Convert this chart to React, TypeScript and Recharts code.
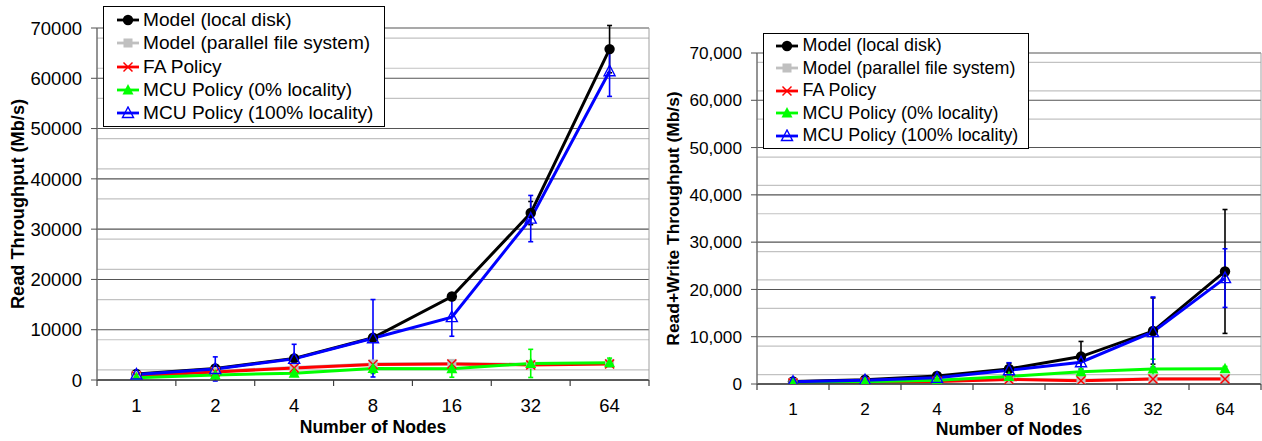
import React from 'react';
import { LineChart, Line, XAxis, YAxis, CartesianGrid, ErrorBar, Legend } from 'recharts';

const FONT = '"Liberation Sans", Arial, Helvetica, sans-serif';

const categories = ['1', '2', '4', '8', '16', '32', '64'];
const yTicks = [0, 10000, 20000, 30000, 40000, 50000, 60000, 70000];
const minorTicks = Array.from({ length: 36 }, (_, i) => i * 2000).filter((v) => v % 10000 !== 0);

const seriesNames = [
  'Model (local disk)',
  'Model (parallel file system)',
  'FA Policy',
  'MCU Policy (0% locality)',
  'MCU Policy (100% locality)',
];
const seriesColors = ['#000000', '#c0c0c0', '#ff0000', '#00ff00', '#0000ff'];
const seriesShapes = ['circle', 'square', 'cross', 'triangle', 'openTriangle'];

// Left chart: Read Throughput (Mb/s)
const readModelLocal = [1200, 2300, 4300, 8400, 16600, 33200, 65800];
const readModelLocalErr = [200, 300, 300, 400, 700, 2300, 4700];
const readModelPfs = [900, 1700, 2500, 3200, 3300, 3100, 3300];
const readFa = [800, 1600, 2400, 3100, 3200, 3000, 3200];
const readFaErr = [100, 200, 300, 600, 500, 400, 400];
const readMcu0 = [450, 1000, 1350, 2300, 2250, 3300, 3450];
const readMcu0Err = [100, 200, 300, 1000, 1700, 2800, 900];
const readMcu100 = [1100, 2200, 4200, 8300, 12500, 32100, 61400];
const readMcu100Err = [200, 2400, 2900, 7700, 3800, 4600, 5000];

// Right chart: Read+Write Throughput (Mb/s)
const rwModelLocal = [550, 900, 1700, 3200, 5800, 11200, 23800];
const rwModelLocalErr = [100, 200, 300, 1200, 3200, 7000, 13100];
const rwModelPfs = [250, 400, 600, 1000, 800, 1100, 1100];
const rwFa = [200, 350, 550, 950, 700, 1050, 1050];
const rwFaErr = [50, 100, 100, 700, 400, 300, 300];
const rwMcu0 = [300, 500, 800, 1600, 2600, 3150, 3200];
const rwMcu0Err = [50, 100, 200, 300, 600, 2100, 500];
const rwMcu100 = [450, 800, 1300, 2900, 4600, 11000, 22400];
const rwMcu100Err = [100, 200, 300, 1600, 1500, 7400, 6200];

const buildRows = (vals: number[][], errs: (number[] | null)[]) =>
  categories.map((nodes, i) => {
    const row: any = { nodes };
    vals.forEach((arr, s) => {
      row[`s${s}`] = arr[i];
      const e = errs[s];
      if (e) row[`e${s}`] = e[i];
    });
    return row;
  });

const readRows = buildRows(
  [readModelLocal, readModelPfs, readFa, readMcu0, readMcu100],
  [readModelLocalErr, null, readFaErr, readMcu0Err, readMcu100Err]
);
const rwRows = buildRows(
  [rwModelLocal, rwModelPfs, rwFa, rwMcu0, rwMcu100],
  [rwModelLocalErr, null, rwFaErr, rwMcu0Err, rwMcu100Err]
);

function Marker({ shape, color, cx, cy }: { shape: string; color: string; cx: number; cy: number }) {
  if (shape === 'circle') return <circle cx={cx} cy={cy} r={5.2} fill={color} />;
  if (shape === 'square') return <rect x={cx - 4.5} y={cy - 4.5} width={9} height={9} fill={color} />;
  if (shape === 'cross')
    return (
      <g stroke={color} strokeWidth={1.5}>
        <line x1={cx - 4.5} y1={cy - 4.5} x2={cx + 4.5} y2={cy + 4.5} />
        <line x1={cx - 4.5} y1={cy + 4.5} x2={cx + 4.5} y2={cy - 4.5} />
      </g>
    );
  if (shape === 'triangle')
    return <polygon points={`${cx},${cy - 6} ${cx - 5.5},${cy + 4.5} ${cx + 5.5},${cy + 4.5}`} fill={color} />;
  return (
    <polygon
      points={`${cx},${cy - 6} ${cx - 5.5},${cy + 4.5} ${cx + 5.5},${cy + 4.5}`}
      fill="none"
      stroke={color}
      strokeWidth={1.4}
    />
  );
}

const makeDot = (shape: string, color: string) => (p: any) => {
  const { cx, cy, index } = p;
  if (cx == null || cy == null) return <g key={`d${index}`} />;
  return (
    <g key={`d${index}`}>
      <Marker shape={shape} color={color} cx={cx} cy={cy} />
    </g>
  );
};

type Cfg = {
  width: number;
  height: number;
  top: number;
  xAxisH: number;
  yAxisW: number;
  yLabel: string;
  tickFs: number;
  legendFs: number;
  yLabelFs: number;
  xLabelFs: number;
  comma: boolean;
  legendLeft: number;
  legendTop: number;
  legendW: number;
  legendRowH: number;
  legendPadL: number;
  legendPadT: number;
  legendGap: number;
  yLabelX: number;
  xTickDy: number;
  xLabelDy: number;
};

function LegendBox({ cfg }: { cfg: Cfg }) {
  return (
    <div
      style={{
        boxSizing: 'border-box',
        width: cfg.legendW,
        border: '1px solid #000',
        background: '#fff',
        paddingLeft: cfg.legendPadL,
        paddingTop: cfg.legendPadT,
        paddingBottom: cfg.legendPadT,
        fontFamily: FONT,
        fontSize: cfg.legendFs,
        color: '#000',
      }}
    >
      {seriesNames.map((name, i) => (
        <div key={name} style={{ display: 'flex', alignItems: 'center', height: cfg.legendRowH, whiteSpace: 'nowrap' }}>
          <svg width={22} height={14} style={{ marginRight: cfg.legendGap, flex: 'none' }}>
            <line x1={0} y1={7} x2={22} y2={7} stroke={seriesColors[i]} strokeWidth={2.8} />
            <Marker shape={seriesShapes[i]} color={seriesColors[i]} cx={11} cy={7} />
          </svg>
          <span>{name}</span>
        </div>
      ))}
    </div>
  );
}

function ThroughputChart({ cfg, rows }: { cfg: Cfg; rows: any[] }) {
  const plotW = cfg.width - cfg.yAxisW - 1;
  const band = plotW / categories.length;
  const fmt = (v: number) => (cfg.comma ? v.toLocaleString('en-US') : String(v));

  const XTick = (p: any) => {
    const { x, y, payload, index } = p;
    const last = index === categories.length - 1;
    return (
      <g>
        <line x1={x - band / 2} x2={x - band / 2} y1={y} y2={y + 6} stroke="#404040" strokeWidth={1.2} />
        {last && <line x1={x + band / 2} x2={x + band / 2} y1={y} y2={y + 6} stroke="#404040" strokeWidth={1.2} />}
        <text x={x} y={y + cfg.xTickDy} textAnchor="middle" fontSize={cfg.tickFs} fontFamily={FONT} fill="#000">
          {payload.value}
        </text>
      </g>
    );
  };

  const YTick = (p: any) => (
    <text x={p.x} y={p.y} dy="0.36em" textAnchor="end" fontSize={cfg.tickFs} fontFamily={FONT} fill="#000">
      {fmt(p.payload.value)}
    </text>
  );

  const yLabel = (lp: any) => {
    const vb = lp.viewBox || {};
    const cx = (vb.x ?? 0) + cfg.yLabelX;
    const cy = (vb.y ?? 0) + (vb.height ?? 0) / 2;
    return (
      <text
        x={cx}
        y={cy}
        transform={`rotate(-90, ${cx}, ${cy})`}
        textAnchor="middle"
        dominantBaseline="central"
        fontSize={cfg.yLabelFs}
        fontWeight="bold"
        fontFamily={FONT}
        fill="#000"
      >
        {cfg.yLabel}
      </text>
    );
  };

  const xLabel = (lp: any) => {
    const vb = lp.viewBox || {};
    return (
      <text
        x={(vb.x ?? 0) + (vb.width ?? 0) / 2}
        y={(vb.y ?? 0) + cfg.xLabelDy}
        textAnchor="middle"
        fontSize={cfg.xLabelFs}
        fontWeight="bold"
        fontFamily={FONT}
        fill="#000"
      >
        Number of Nodes
      </text>
    );
  };

  return (
    <LineChart width={cfg.width} height={cfg.height} data={rows} margin={{ top: cfg.top, right: 0, bottom: 0, left: 0 }}>
      <CartesianGrid vertical={false} horizontalValues={minorTicks} stroke="#c2c2c2" strokeWidth={1.2} />
      <CartesianGrid vertical={false} horizontalValues={yTicks} stroke="#555555" strokeWidth={1.1} />
      <XAxis
        dataKey="nodes"
        type="category"
        scale="point"
        padding={{ left: band / 2, right: band / 2 }}
        height={cfg.xAxisH}
        interval={0}
        tickLine={false}
        tickSize={0}
        tickMargin={0}
        axisLine={{ stroke: '#404040', strokeWidth: 1.3 }}
        tick={XTick}
        label={xLabel}
      />
      <YAxis
        type="number"
        domain={[0, 70000]}
        ticks={yTicks}
        allowDataOverflow
        width={cfg.yAxisW}
        tickSize={6}
        tickMargin={9}
        tickLine={{ stroke: '#505050' }}
        axisLine={{ stroke: '#707070', strokeWidth: 1.5 }}
        tick={YTick}
        label={yLabel}
      />
      <YAxis
        yAxisId="border"
        orientation="right"
        type="number"
        domain={[0, 70000]}
        width={1}
        tick={false}
        tickLine={false}
        axisLine={{ stroke: '#a0a0a0', strokeWidth: 1 }}
      />
      <Legend
        layout="vertical"
        align="center"
        verticalAlign="middle"
        wrapperStyle={{ left: cfg.legendLeft, top: cfg.legendTop, width: cfg.legendW }}
        content={() => <LegendBox cfg={cfg} />}
      />
      {seriesNames.map((name, s) => (
        <Line
          key={name}
          name={name}
          dataKey={`s${s}`}
          type="linear"
          stroke={seriesColors[s]}
          strokeWidth={3}
          dot={makeDot(seriesShapes[s], seriesColors[s])}
          activeDot={false}
          isAnimationActive={false}
        >
          {rows[0][`e${s}`] !== undefined && (
            <ErrorBar dataKey={`e${s}`} direction="y" width={2.5} strokeWidth={1.6} stroke={seriesColors[s]} />
          )}
        </Line>
      ))}
    </LineChart>
  );
}

const leftCfg: Cfg = {
  width: 650,
  height: 441,
  top: 28,
  xAxisH: 61,
  yAxisW: 97,
  yLabel: 'Read Throughput (Mb/s)',
  tickFs: 18.5,
  legendFs: 19.1,
  yLabelFs: 18.2,
  xLabelFs: 17.6,
  comma: false,
  legendLeft: 103,
  legendTop: 6,
  legendW: 282,
  legendRowH: 23.3,
  legendPadL: 12.5,
  legendPadT: 1.5,
  legendGap: 4.6,
  yLabelX: 18,
  xTickDy: 31.7,
  xLabelDy: 53.3,
};

const rightCfg: Cfg = {
  width: 612,
  height: 441,
  top: 53,
  xAxisH: 57,
  yAxisW: 107,
  yLabel: 'Read+Write Throughput (Mb/s)',
  tickFs: 17.2,
  legendFs: 17.9,
  yLabelFs: 17.4,
  xLabelFs: 17.6,
  comma: true,
  legendLeft: 113,
  legendTop: 33,
  legendW: 266,
  legendRowH: 22.5,
  legendPadL: 12,
  legendPadT: 0.5,
  legendGap: 4.6,
  yLabelX: 23,
  xTickDy: 30.5,
  xLabelDy: 51,
};

export default function App() {
  return (
    <div style={{ position: 'absolute', left: 0, top: 0, width: 1262, height: 441, background: '#fff', overflow: 'hidden' }}>
      <div style={{ position: 'absolute', left: 0, top: 0 }}>
        <ThroughputChart cfg={leftCfg} rows={readRows} />
      </div>
      <div style={{ position: 'absolute', left: 650, top: 0 }}>
        <ThroughputChart cfg={rightCfg} rows={rwRows} />
      </div>
    </div>
  );
}
